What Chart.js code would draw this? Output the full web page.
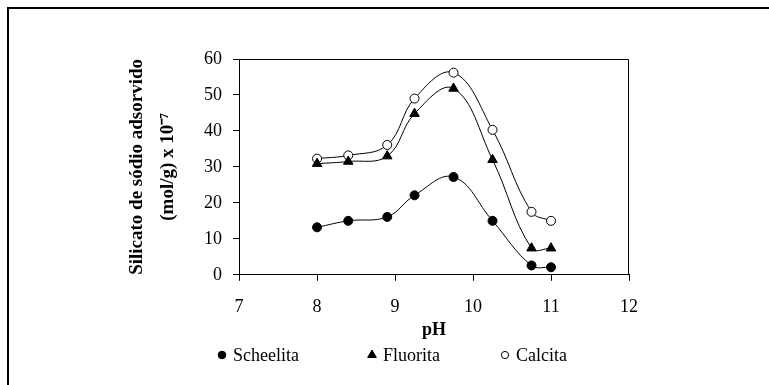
<!DOCTYPE html>
<html>
<head>
<meta charset="utf-8">
<script src="https://cdn.jsdelivr.net/npm/chart.js@4/dist/chart.umd.min.js"></script>
<style>
  html, body { margin: 0; padding: 0; background: #fff; overflow: hidden; }
  #wrap { position: relative; width: 769px; height: 385px; }
  #frame { position: absolute; left: 7px; top: 7px; width: 900px; height: 500px;
           border-left: 2px solid #000; border-top: 2px solid #000; }
  canvas { position: absolute; left: 0; top: 0; }
</style>
</head>
<body>
<div id="wrap">
  <div id="frame"></div>
  <canvas id="chart" width="769" height="385"></canvas>
</div>
<script>
const phValues = [8, 8.4, 8.9, 9.25, 9.75, 10.25, 10.75, 11];
const scheelita = [13.2, 15.0, 16.1, 22.1, 27.2, 15.0, 2.6, 2.1];
const fluorita = [30.9, 31.5, 33.0, 44.8, 51.8, 32.0, 7.4, 7.4];
const calcita = [32.3, 33.2, 36.1, 49.0, 56.2, 40.3, 17.5, 15.0];
const xTicks = [7, 8, 9, 10, 11, 12];
const yTicks = [0, 10, 20, 30, 40, 50, 60];

const serif = "'Liberation Serif', 'Times New Roman', serif";

const toPoints = (ys) => ys.map((y, i) => ({ x: phValues[i], y }));

const series = (label, ys, style, extra = {}) => ({
    label,
    data: toPoints(ys),
    showLine: true,
    tension: 0.4,
    borderColor: '#000',
    borderWidth: 1,
    pointStyle: style,
    pointBackgroundColor: '#000',
    pointBorderColor: '#000',
    pointBorderWidth: 1,
    pointRadius: 4.5,
    ...extra,
});

// box around the plot area
const plotFrame = {
    id: 'plotFrame',
    afterDraw(chart) {
        const { ctx, chartArea: a } = chart;
        ctx.save();
        ctx.strokeStyle = '#000';
        ctx.lineWidth = 1;
        ctx.beginPath();
        ctx.moveTo(a.left, a.top + 0.5);
        ctx.lineTo(a.right - 0.5, a.top + 0.5);
        ctx.lineTo(a.right - 0.5, a.bottom);
        ctx.stroke();
        ctx.restore();
    },
};

// legend spread out under the axis title, like the original
const legendSlots = [{ x: 222, r: 3.8 }, { x: 372, r: 5 }, { x: 505, r: 3.6 }];
const spreadLegend = {
    id: 'spreadLegend',
    afterDraw(chart) {
        const { ctx } = chart;
        const y = 355;
        ctx.save();
        ctx.font = `18px ${serif}`;
        ctx.textBaseline = 'middle';
        chart.data.datasets.forEach((ds, i) => {
            const slot = legendSlots[i];
            ctx.fillStyle = ds.pointBackgroundColor;
            ctx.strokeStyle = ds.pointBorderColor;
            ctx.lineWidth = 1;
            Chart.helpers.drawPoint(ctx, { pointStyle: ds.pointStyle, radius: slot.r, rotation: 0, borderWidth: 1 }, slot.x, y);
            ctx.fillStyle = '#000';
            ctx.fillText(ds.label, slot.x + 11, y + 1);
        });
        ctx.restore();
    },
};

new Chart(document.getElementById('chart'), {
    type: 'scatter',
    data: {
        datasets: [
            series('Scheelita', scheelita, 'circle'),
            series('Fluorita', fluorita, 'triangle', { pointRadius: 5.5 }),
            series('Calcita', calcita, 'circle', { pointBackgroundColor: '#fff' }),
        ],
    },
    options: {
        responsive: false,
        animation: false,
        layout: { padding: { left: 110, right: 140, top: 59, bottom: 44 } },
        plugins: { legend: { display: false }, tooltip: { enabled: false } },
        scales: {
            x: {
                type: 'linear',
                min: 7,
                max: 12,
                afterBuildTicks: (axis) => { axis.ticks = xTicks.map((v) => ({ value: v })); },
                grid: { drawOnChartArea: false, tickLength: 6, color: '#000' },
                border: { color: '#000', width: 1 },
                ticks: { color: '#000', padding: 16, font: { family: serif, size: 18 } },
                title: {
                    display: true,
                    text: 'pH',
                    color: '#000',
                    padding: { top: -15, bottom: 0 },
                    font: { family: serif, size: 18, weight: 'bold' },
                },
            },
            y: {
                min: 0,
                max: 60,
                afterBuildTicks: (axis) => { axis.ticks = yTicks.map((v) => ({ value: v })); },
                grid: { drawOnChartArea: false, tickLength: 6, color: '#000' },
                border: { color: '#000', width: 1 },
                ticks: { color: '#000', padding: 11, font: { family: serif, size: 18 } },
                title: {
                    display: true,
                    text: ['Silicato de sódio adsorvido', '(mol/g) x 10⁻⁷'],
                    color: '#000',
                    padding: { top: 12, bottom: 9.5 },
                    font: { family: serif, size: 19, weight: 'bold', lineHeight: 1.62 },
                },
            },
        },
    },
    plugins: [plotFrame, spreadLegend],
});
</script>
</body>
</html>
